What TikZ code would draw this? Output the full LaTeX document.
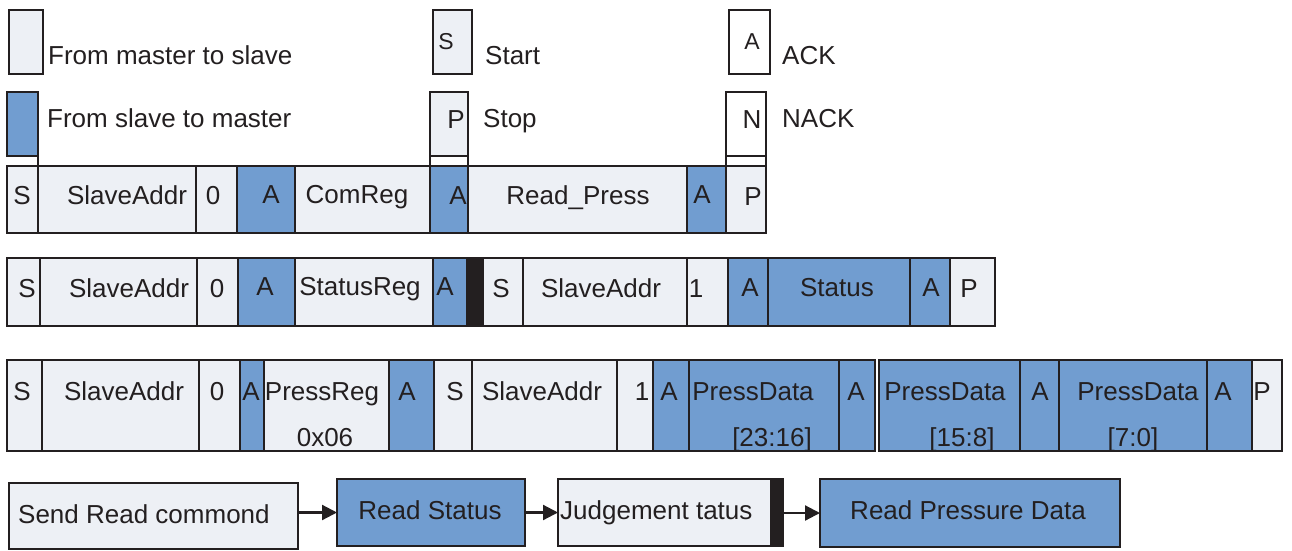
\documentclass[tikz,border=0pt]{standalone}
\usepackage{fontspec}
\setmainfont{Liberation Sans}
\usetikzlibrary{fit,arrows.meta}
\definecolor{lt}{HTML}{EDF0F5}
\definecolor{bl}{HTML}{719DD0}
\definecolor{ink}{HTML}{231F20}
\tikzset{
  cellbase/.style={draw=ink, line width=2.6pt, inner sep=0pt, outer sep=0pt},
  lite/.style={cellbase, fill=lt},
  bluec/.style={cellbase, fill=bl},
  whitec/.style={cellbase, fill=white},
  barc/.style={cellbase, fill=ink},
  thinrow/.style={line width=2.1pt},
  txt/.style={text=ink, font=\fontsize{26}{26}\selectfont, inner sep=0pt, anchor=base},
  txtl/.style={txt, anchor=base west},
  small/.style={txt, font=\fontsize{23}{23}\selectfont},
  link/.style={draw=ink, line width=2.6pt},
  arr/.style={draw=ink, line width=2.2pt, -{Triangle[length=15pt,width=15pt]}},
}
\newcommand\cel[6]{\node[#6, fit={(#2,#4) (#3,#5)}] (#1) {};}
\newcommand\tx[4]{\node[txt] (#1) at (#2,#3) {#4};}
\begin{document}
\begin{tikzpicture}[x=1pt,y=-1pt]
\useasboundingbox (0,0) rectangle (1292,551);

% ---------- legend ----------
\cel{lgL}{9}{43}{10}{74}{lite}
\node[txtl] (lgLt) at (48,65) {From master to slave};
\cel{lgB}{7}{38}{92}{156}{bluec}
\node[txtl] (lgBt) at (47,127) {From slave to master};
\cel{lgS}{433}{472}{10}{74}{lite}
\node[small] (lgSt) at (446,50) {S};
\node[txtl] (lgSx) at (485,65) {Start};
\cel{lgP}{430}{468}{92}{156}{lite}
\tx{lgPt}{456}{128}{P}
\node[txtl] (lgPx) at (483,127) {Stop};
\cel{lgA}{729}{770}{10}{74}{whitec}
\node[small] (lgAt) at (752,50) {A};
\node[txtl] (lgAx) at (782,65) {ACK};
\cel{lgN}{726}{766}{92}{156}{whitec}
\tx{lgNt}{752}{128}{N}
\node[txtl] (lgNx) at (782,127) {NACK};

% ---------- row 1 ----------
\cel{r1s}{7}{38}{166}{233}{lite}
\cel{r1addr}{38}{196}{166}{233}{lite}
\cel{r1zero}{196}{237}{166}{233}{lite}
\cel{r1a1}{237}{295}{166}{233}{bluec}
\cel{r1reg}{295}{430}{166}{233}{lite}
\cel{r1a2}{430}{468}{166}{233}{bluec}
\cel{r1cmd}{468}{687}{166}{233}{lite}
\cel{r1a3}{687}{726}{166}{233}{bluec}
\cel{r1p}{726}{766}{166}{233}{lite}
\tx{r1st}{22}{204}{S}
\tx{r1addrt}{127}{204}{SlaveAddr}
\tx{r1zerot}{213}{204}{0}
\tx{r1a1t}{271}{203}{A}
\tx{r1regt}{357}{203}{ComReg}
\tx{r1a2t}{458}{204}{A}
\tx{r1cmdt}{578}{204}{Read\_Press}
\tx{r1a3t}{702}{203}{A}
\tx{r1pt}{753}{205}{P}

% legend boxes joined to row 1
\draw[link] (lgB.south east) -- (r1s.north east);
\draw[link] (lgP.south west) -- (r1a2.north west);
\draw[link] (lgP.south east) -- (r1a2.north east);
\draw[link] (lgN.south west) -- (r1p.north west);
\draw[link] (lgN.south east) -- (r1p.north east);

% ---------- row 2 ----------
\cel{r2s}{7}{40}{258}{326}{lite}
\cel{r2addr}{40}{197}{258}{326}{lite}
\cel{r2zero}{197}{238}{258}{326}{lite}
\cel{r2a1}{238}{295}{258}{326}{bluec}
\cel{r2reg}{295}{433}{258}{326}{lite}
\cel{r2a2}{433}{467}{258}{326}{bluec}
\cel{r2bar}{467}{483}{258}{326}{barc}
\cel{r2s2}{483}{523}{258}{326}{lite}
\cel{r2addr2}{523}{687}{258}{326}{lite}
\cel{r2one}{687}{728}{258}{326}{lite}
\cel{r2a3}{728}{768}{258}{326}{bluec}
\cel{r2stat}{768}{910}{258}{326}{bluec}
\cel{r2a4}{910}{950}{258}{326}{bluec}
\cel{r2p}{950}{995}{258}{326}{lite}
\tx{r2st}{27}{297}{S}
\tx{r2addrt}{129}{297}{SlaveAddr}
\tx{r2zerot}{217}{297}{0}
\tx{r2a1t}{265}{295}{A}
\tx{r2regt}{360}{295}{StatusReg}
\tx{r2a2t}{445}{295}{A}
\tx{r2s2t}{501}{297}{S}
\tx{r2addr2t}{601}{297}{SlaveAddr}
\tx{r2onet}{696}{297}{1}
\tx{r2a3t}{750}{296}{A}
\tx{r2statt}{837}{296}{Status}
\tx{r2a4t}{931}{296}{A}
\tx{r2pt}{969}{297}{P}

% ---------- row 3 ----------
\cel{r3s}{7}{42}{360}{451}{lite,thinrow}
\cel{r3addr}{42}{199}{360}{451}{lite,thinrow}
\cel{r3zero}{199}{240}{360}{451}{lite,thinrow}
\cel{r3a1}{240}{264}{360}{451}{bluec,thinrow}
\cel{r3reg}{264}{389}{360}{451}{lite,thinrow}
\cel{r3a2}{389}{434}{360}{451}{bluec,thinrow}
\cel{r3s2}{434}{472}{360}{451}{lite,thinrow}
\cel{r3addr2}{472}{617}{360}{451}{lite,thinrow}
\cel{r3one}{617}{653}{360}{451}{lite,thinrow}
\cel{r3a3}{653}{689}{360}{451}{bluec,thinrow}
\cel{r3d1}{689}{839}{360}{451}{bluec,thinrow}
\cel{r3a4}{839}{875}{360}{451}{bluec,thinrow}
\cel{r3d2}{879}{1020}{360}{451}{bluec,thinrow}
\cel{r3a5}{1020}{1059}{360}{451}{bluec,thinrow}
\cel{r3d3}{1059}{1207}{360}{451}{bluec,thinrow}
\cel{r3a6}{1207}{1252}{360}{451}{bluec,thinrow}
\cel{r3p}{1252}{1282}{360}{451}{lite,thinrow}
\tx{r3st}{22}{400}{S}
\tx{r3addrt}{124}{400}{SlaveAddr}
\tx{r3zerot}{217}{400}{0}
\tx{r3a1t}{251}{400}{A}
\tx{r3regt}{322}{400}{PressReg}
\tx{r3regv}{325}{446}{0x06}
\tx{r3a2t}{407}{400}{A}
\tx{r3s2t}{455}{400}{S}
\tx{r3addr2t}{542}{400}{SlaveAddr}
\tx{r3onet}{642}{400}{1}
\tx{r3a3t}{669}{400}{A}
\tx{r3d1t}{753}{400}{PressData}
\tx{r3d1v}{772}{446}{[23:16]}
\tx{r3a4t}{856}{400}{A}
\tx{r3d2t}{945}{400}{PressData}
\tx{r3d2v}{962}{446}{[15:8]}
\tx{r3a5t}{1040}{400}{A}
\tx{r3d3t}{1138}{400}{PressData}
\tx{r3d3v}{1133}{446}{[7:0]}
\tx{r3a6t}{1223}{400}{A}
\tx{r3pt}{1262}{400}{P}

% ---------- flow ----------
\cel{b1}{9}{298}{483}{549}{lite}
\node[txtl] (b1t) at (18,523) {Send Read commond};
\cel{b2}{337}{525}{479}{546}{bluec}
\tx{b2t}{430}{519}{Read Status}
\cel{b3}{558}{783}{479}{546}{lite}
\cel{b3bar}{771}{783}{479}{546}{barc}
\node[txtl] (b3t) at (560,519) {Judgement tatus};
\cel{b4}{820}{1120}{479}{547}{bluec}
\tx{b4t}{968}{519}{Read Pressure Data}

\draw[arr] (b2.west -| b1.east) -- (b2.west);
\draw[arr] (b2.east |- b3.west) -- (b3.west);
\draw[arr] (b3.east |- b4.west) -- (b4.west);
\end{tikzpicture}
\end{document}
